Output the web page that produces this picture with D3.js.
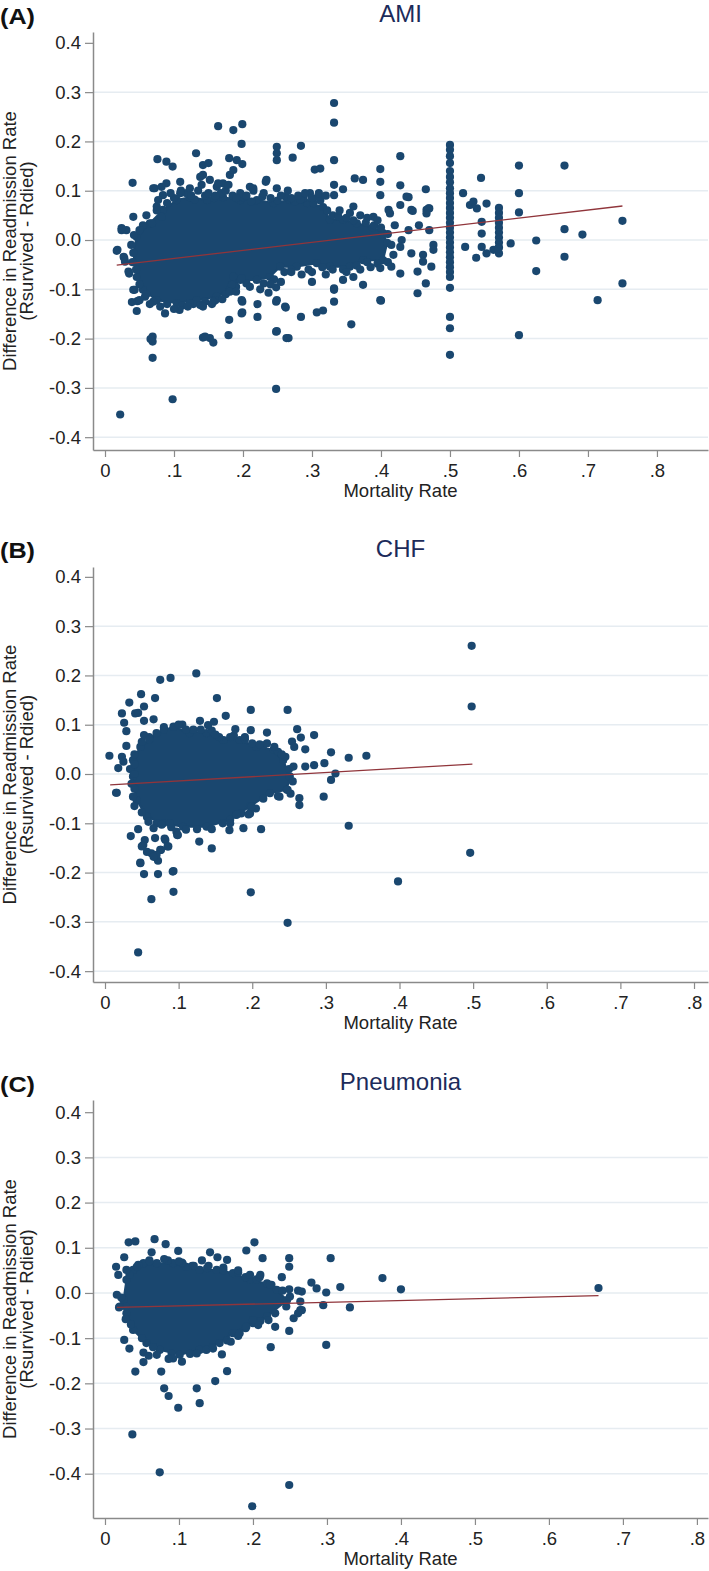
<!DOCTYPE html>
<html>
<head>
<meta charset="utf-8">
<script src="https://cdn.jsdelivr.net/npm/d3@7"></script>
<style>
  body { margin: 0; background: #fff; }
  svg { display: block; font-family: Arial, "Liberation Sans", Helvetica, sans-serif; }
</style>
</head>
<body>
<div id="chart"></div>
<script>
const width = 709;
const height = 1571;

// tick values and their printed labels (same on every panel)
const yTicks = [-0.4, -0.3, -0.2, -0.1, 0, 0.1, 0.2, 0.3, 0.4];
const yTickLabels = ["-0.4", "-0.3", "-0.2", "-0.1", "0.0", "0.1", "0.2", "0.3", "0.4"];
const xTicks = [0, 0.1, 0.2, 0.3, 0.4, 0.5, 0.6, 0.7, 0.8];
const xTickLabels = ["0", ".1", ".2", ".3", ".4", ".5", ".6", ".7", ".8"];

// ---- AMI ----
// outline of the overplotted (solid) part of the cloud, [mortality, difference]
const amiCore = [[.046,.006],[.065,.034],[.084,.061],[.104,.081],[.123,.087],[.148,.081],[.171,.087],[.196,.081],
  [.220,.081],[.244,.075],[.268,.081],[.293,.075],[.316,.067],[.326,.041],[.345,.041],[.365,.034],[.388,.026],
  [.403,.014],[.409,-.006],[.403,-.041],[.374,-.041],[.355,-.054],[.326,-.054],[.307,-.047],[.278,-.054],
  [.254,-.054],[.239,-.075],[.220,-.081],[.196,-.081],[.181,-.101],[.162,-.115],[.133,-.122],[.104,-.128],
  [.075,-.122],[.055,-.101],[.046,-.075],[.041,-.026]];
// hospitals sitting on the ragged rim of that region
const amiRim = [[.055,.03],[.06,.05],[.075,.06],[.09,.075],[.1,.085],[.118,.095],[.13,.082],[.145,.09],[.158,.085],
  [.168,.095],[.185,.09],[.2,.087],[.212,.078],[.228,.088],[.25,.08],[.262,.088],[.275,.078],[.288,.085],
  [.302,.075],[.312,.08],[.322,.06],[.33,.05],[.338,.048],[.35,.045],[.36,.04],[.378,.035],[.39,.03],[.4,.025],
  [.41,.012],[.415,-.01],[.418,-.03],[.41,-.045],[.395,-.048],[.38,-.045],[.365,-.052],[.345,-.06],[.33,-.06],
  [.315,-.055],[.295,-.06],[.27,-.06],[.26,-.065],[.245,-.08],[.23,-.088],[.205,-.088],[.19,-.095],[.175,-.11],
  [.16,-.122],[.145,-.125],[.128,-.13],[.112,-.133],[.09,-.13],[.07,-.125],[.058,-.115],[.05,-.09],[.045,-.06],
  [.04,-.045],[.038,-.01],[.042,.01],[.05,.02]];
const amiPts = [[.022,-.354],[.098,-.323],[.248,-.302],[.069,-.196],[.069,-.206],[.066,-.201],[.069,-.239],
  [.142,-.198],[.152,-.199],[.157,-.208],[.145,-.196],[.179,-.193],[.180,-.162],[.199,-.125],[.199,-.147],
  [.221,-.130],[.221,-.156],[.248,-.125],[.248,-.186],[.266,-.199],[.262,-.137],[.237,-.107],[.248,-.096],
  [.284,-.156],[.307,-.147],[.316,-.143],[.300,-.085],[.332,-.098],[.332,-.125],[.357,-.171],
  [.017,-.022],[.028,-.037],[.035,-.068],[.039,-.126],[.046,-.144],[.047,-.124],[.043,-.101],[.087,-.149],
  [.108,-.142],[.123,-.128],[.138,-.132],[.157,-.125],[.184,-.091],[.186,-.074],[.181,-.105],[.198,-.078],
  [.040,.116],[.041,.047],[.024,.020],[.031,.020],[.018,-.020],[.072,.105],[.075,.068],[.076,.164],[.089,.159],
  [.098,.149],[.084,.091],[.089,.115],[.082,.047],[.109,.118],[.132,.176],[.123,.105],[.142,.152],[.150,.156],
  [.142,.132],[.152,.122],[.140,.112],[.164,.231],[.186,.223],[.199,.235],[.198,.195],[.180,.166],[.191,.162],
  [.199,.154],[.181,.132],[.186,.142],[.171,.115],[.162,.108],[.196,.095],[.210,.108],[.233,.118],
  [.249,.189],[.249,.176],[.249,.162],[.249,.105],[.272,.167],[.284,.191],[.304,.143],[.312,.145],
  [.332,.278],[.332,.238],[.332,.162],[.332,.112],[.332,.091],[.345,.103],[.362,.125],[.374,.122],[.297,.095],
  [.309,.088],[.270,.085],[.283,.082],[.399,.144],[.399,.118],[.399,.091],[.428,.170],[.428,.111],[.465,.103],
  [.440,.087],[.466,.061],[.470,.064],[.446,.059],[.428,.071],[.411,.061],[.389,.047],[.360,.068],[.413,.054],
  [.437,.088],[.444,.061],[.469,.064],[.466,.054],
  [.5,.193],[.5,.183],[.5,.17],[.5,.156],[.5,.14],[.5,.128],[.5,.117],[.5,.105],[.5,.095],[.5,.085],[.5,.075],
  [.5,.065],[.5,.055],[.5,.045],[.5,.035],[.5,.025],[.5,.015],[.5,.005],[.5,-.005],[.5,-.015],[.5,-.025],
  [.5,-.035],[.5,-.045],[.5,-.055],[.5,-.065],[.5,-.075],[.5,-.097],[.5,-.156],[.5,-.179],[.5,-.233],
  [.519,.095],[.529,.071],[.522,-.014],[.545,.126],[.534,.078],[.539,.064],[.553,.074],[.546,.037],[.546,.013],
  [.546,-.014],[.571,.065],[.571,.055],[.571,.045],[.571,.035],[.571,.025],[.571,.015],[.571,.005],[.571,-.005],
  [.571,-.015],[.571,-.027],[.600,.151],[.600,.095],[.600,.056],[.588,-.007],[.625,-.001],[.666,.151],
  [.666,.022],[.692,.011],[.750,.039],[.538,-.036],[.553,-.027],[.563,-.020],[.570,-.017],[.666,-.034],
  [.625,-.063],[.750,-.088],[.714,-.122],[.600,-.193],
  [.400,-.123],[.374,-.091],[.453,-.108],[.465,-.088],[.453,-.064],[.428,-.068],[.415,-.054],[.399,-.057],
  [.473,-.054],[.461,-.030],[.461,-.044],[.476,-.010],[.476,-.020],[.444,-.027],[.42,.03],[.43,.0],[.44,.02],
  [.455,.03],[.47,.02],[.428,-.014],[.399,-.122],[.332,-.101],[.345,-.081],[.263,-.199],[.249,-.185],
  [.261,-.135],[.249,-.122],[.198,-.122],[.198,-.149],
  [.095,.095],[.11,.1],[.125,.09],[.135,.1],[.15,.095],[.16,.09],[.175,.1],[.19,.085],[.205,.09],[.215,.1],
  [.23,.095],[.24,.085],[.255,.09],[.265,.1],[.28,.09],[.29,.095],[.3,.085],[.31,.095],[.32,.09],[.068,.034],
  [.070,.105],[.077,.081],[.082,.108],[.109,.095],[.138,.128],[.164,.115],[.179,.112],[.215,.105],[.234,.122],
  [.024,.024],[.027,-.034],[.029,-.044],[.034,-.064],[.041,-.101],[.050,-.122],[.142,-.135],
  [.34,.06],[.355,.055],[.37,.05],[.38,.045],[.395,.04],[.35,-.065],[.37,-.06],[.385,-.055],[.36,-.075],
  [.3,-.065],[.285,-.07],[.27,-.065],[.32,-.07],[.24,-.09],[.255,-.085],[.21,-.095],[.225,-.1],[.19,-.105],
  [.17,-.12],[.155,-.13],[.12,-.135],[.1,-.14],[.08,-.135],[.065,-.13],[.06,-.11]];
const amiFit = [[0.017, -0.051], [0.75, 0.069]];

// ---- CHF ----
const chfCore = [[.038,.028],[.048,.055],[.070,.083],[.093,.096],[.115,.083],[.138,.083],[.161,.069],[.183,.069],
  [.206,.055],[.229,.049],[.242,.028],[.251,-.005],[.247,-.032],[.224,-.039],[.197,-.066],[.170,-.093],
  [.138,-.107],[.106,-.107],[.079,-.100],[.057,-.087],[.043,-.053],[.038,-.005]];
const chfRim = [[.04,.04],[.05,.065],[.06,.075],[.08,.095],[.105,.1],[.12,.09],[.145,.088],[.155,.075],[.175,.078],
  [.19,.07],[.2,.062],[.215,.058],[.235,.045],[.245,.035],[.25,.01],[.255,-.015],[.252,-.04],[.235,-.045],
  [.215,-.05],[.205,-.07],[.185,-.08],[.16,-.1],[.145,-.112],[.125,-.112],[.11,-.113],[.09,-.108],[.07,-.1],
  [.05,-.078],[.04,-.065],[.036,-.02],[.034,.01]];
const chfPts = [[.006,.037],[.018,.012],[.015,-.038],[.023,.035],[.025,.025],[.029,.057],[.023,.123],[.026,.104],
  [.029,.087],[.033,.145],[.041,.123],[.045,.124],[.049,.162],[.053,.137],[.068,.154],[.075,.191],[.089,.195],
  [.124,.204],[.053,.108],[.066,.111],[.053,.079],[.152,.154],[.129,.108],[.140,.099],[.148,.106],[.164,.118],
  [.177,.091],[.198,.130],[.198,.089],[.220,.084],[.220,.062],[.248,.130],[.261,.091],[.266,.074],[.254,.066],
  [.257,.055],[.272,.050],[.284,.079],[.256,.015],[.272,.015],[.284,.018],[.298,.022],[.307,.044],[.331,.033],
  [.355,.037],[.313,.001],[.307,-.012],[.248,-.032],[.237,-.046],[.264,-.049],[.264,-.063],[.297,-.046],
  [.331,-.105],[.398,-.218],[.498,.260],[.498,.137],[.496,-.160],[.188,-.110],[.212,-.112],[.169,-.114],
  [.178,-.083],[.197,-.080],[.145,-.151],[.128,-.137],[.097,-.117],[.098,-.124],[.045,-.112],[.035,-.126],
  [.038,-.046],[.059,-.097],[.066,-.110],[.077,-.103],[.088,-.100],[.054,-.134],[.052,-.144],[.068,-.130],
  [.075,-.154],[.082,-.134],[.086,-.147],[.063,-.161],[.072,-.176],[.048,-.180],[.053,-.203],[.072,-.203],
  [.093,-.197],[.045,-.362],[.063,-.254],[.093,-.239],[.198,-.240],[.248,-.302],[.092,-.198],[.048,-.181],
  [.016,-.038],[.099,-.124],[.081,-.131],[.085,-.147],[.076,-.154],[.070,-.164],[.050,-.147],[.057,-.158],
  [.066,-.168],[.195,-.082],[.199,-.066],[.179,-.082],[.170,-.100],
  [.06,.07],[.08,.09],[.1,.1],[.11,.09],[.13,.09],[.15,.08],[.17,.075],[.19,.075],[.21,.06],[.23,.055],
  [.24,.04],[.04,.0],[.04,.02],[.04,-.03]];
const chfFit = [[0.007, -0.022], [0.499, 0.020]];

// ---- Pneumonia ----
const pneCore = [[.029,.029],[.038,.051],[.052,.066],[.070,.066],[.092,.066],[.110,.058],[.128,.051],[.151,.051],
  [.173,.044],[.196,.029],[.219,.021],[.232,.007],[.246,-.016],[.219,-.052],[.200,-.067],[.173,-.089],
  [.155,-.111],[.128,-.126],[.101,-.137],[.074,-.126],[.056,-.111],[.038,-.082],[.029,-.045],[.025,-.016]];
const pneRim = [[.033,.04],[.045,.062],[.06,.072],[.085,.072],[.105,.065],[.118,.06],[.138,.055],[.16,.056],
  [.18,.045],[.19,.035],[.205,.03],[.225,.018],[.24,.005],[.25,-.008],[.245,-.03],[.23,-.045],[.21,-.062],
  [.19,-.078],[.18,-.095],[.165,-.105],[.145,-.12],[.115,-.135],[.09,-.135],[.065,-.12],[.05,-.1],[.035,-.07],
  [.028,-.03],[.022,-.01]];
const pnePts = [[.015,.058],[.018,.040],[.016,-.004],[.020,-.030],[.026,.079],[.032,.112],[.041,.114],[.029,.051],
  [.043,.058],[.063,.090],[.067,.119],[.082,.108],[.099,.093],[.104,.067],[.131,.072],[.142,.090],[.152,.079],
  [.165,.073],[.191,.094],[.202,.112],[.213,.077],[.196,.040],[.209,.035],[.223,.018],[.239,.035],[.249,.077],
  [.249,.058],[.249,.008],[.261,.005],[.266,.003],[.264,-.019],[.264,-.038],[.279,.023],[.286,.010],[.299,.001],
  [.295,-.027],[.305,.077],[.318,.013],[.331,-.032],[.375,.033],[.400,.008],[.667,.011],
  [.019,-.032],[.028,-.058],[.026,-.104],[.033,-.123],[.041,-.174],[.052,-.153],[.037,-.313],[.074,-.397],
  [.199,-.472],[.249,-.425],[.076,-.174],[.080,-.211],[.086,-.228],[.099,-.254],[.124,-.211],[.128,-.244],
  [.149,-.195],[.165,-.173],[.158,-.136],[.170,-.108],[.224,-.120],[.249,-.084],[.230,-.075],[.255,-.056],
  [.261,-.045],[.266,-.038],[.207,-.071],[.221,-.060],[.299,-.115],[.104,-.152],[.092,-.145],[.086,-.146],
  [.070,-.137],[.052,-.132],[.059,-.139],[.137,-.126],[.146,-.123],[.124,-.134],[.182,-.089],[.191,-.075],
  [.200,-.060],[.06,.07],[.08,.075],[.1,.07],[.12,.06],[.14,.06],[.16,.05],[.18,.05],[.21,.04]];
const pneFit = [[0.016, -0.032], [0.667, -0.006]];

const colors = {
  dot: "#1a476f",
  fit: "#90353b",
  grid: "#e6ecf1",
  axis: "#8a8a8a",
  text: "#222",
  title: "#1c2b5a"
};

// layout of the three stacked panels (pixels + visible data range)
const panels = [
  { tag: "(A)", tagY: 24, title: "AMI", titleY: 22, top: 32, bottom: 450,
    xDomain: [-0.0174, 0.874], yDomain: [-0.426, 0.422],
    core: amiCore, rim: amiRim, pts: amiPts, fit: amiFit },
  { tag: "(B)", tagY: 558, title: "CHF", titleY: 557, top: 567, bottom: 982,
    xDomain: [-0.0163, 0.819], yDomain: [-0.422, 0.420],
    core: chfCore, rim: chfRim, pts: chfPts, fit: chfFit },
  { tag: "(C)", tagY: 1092, title: "Pneumonia", titleY: 1090, top: 1100, bottom: 1518,
    xDomain: [-0.0162, 0.815], yDomain: [-0.498, 0.427],
    core: pneCore, rim: pneRim, pts: pnePts, fit: pneFit }
];

const left = 93, right = 708, r = 4.1;

const svg = d3.select("#chart")
  .append("svg")
  .attr("width", width)
  .attr("height", height);

svg.append("rect").attr("width", width).attr("height", height).attr("fill", "#fff");

panels.forEach(drawPanel);

function drawPanel(p) {
  const g = svg.append("g");
  const x = d3.scaleLinear().domain(p.xDomain).range([left, right]);
  const y = d3.scaleLinear().domain(p.yDomain).range([p.bottom, p.top]);

  // gridlines (none on the top 0.4 tick)
  g.selectAll(".grid")
    .data(yTicks.filter(d => d < 0.35))
    .enter()
    .append("line")
    .attr("x1", left + 1).attr("x2", right)
    .attr("y1", d => y(d)).attr("y2", d => y(d))
    .attr("stroke", colors.grid)
    .attr("stroke-width", 1.5);

  const yAxis = g.append("g")
    .attr("transform", `translate(${left},0)`)
    .call(d3.axisLeft(y).tickValues(yTicks)
      .tickFormat((d, i) => yTickLabels[i])
      .tickSize(8).tickPadding(4).tickSizeOuter(0));

  const xAxis = g.append("g")
    .attr("transform", `translate(0,${p.bottom})`)
    .call(d3.axisBottom(x).tickValues(xTicks)
      .tickFormat((d, i) => xTickLabels[i])
      .tickSize(7).tickPadding(7).tickSizeOuter(0));

  [yAxis, xAxis].forEach(a => {
    a.select(".domain").attr("stroke", colors.axis).attr("stroke-width", 1.5);
    a.selectAll(".tick line").attr("stroke", colors.axis).attr("stroke-width", 1.2);
    a.selectAll(".tick text")
      .attr("fill", colors.text)
      .style("font-size", "18.5px")
      .style("font-family", "Arial, 'Liberation Sans', sans-serif");
  });

  // solid overplotted region of the cloud
  g.append("path")
    .datum(p.core)
    .attr("d", d3.line().x(d => x(d[0])).y(d => y(d[1])).curve(d3.curveLinearClosed))
    .attr("fill", colors.dot)
    .attr("stroke", colors.dot)
    .attr("stroke-width", 2)
    .attr("stroke-linejoin", "round");

  g.selectAll(".dot")
    .data(p.core.concat(p.rim, p.pts))
    .enter()
    .append("circle")
    .attr("cx", d => x(d[0]))
    .attr("cy", d => y(d[1]))
    .attr("r", r)
    .attr("fill", colors.dot);

  g.append("line")
    .attr("x1", x(p.fit[0][0])).attr("y1", y(p.fit[0][1]))
    .attr("x2", x(p.fit[1][0])).attr("y2", y(p.fit[1][1]))
    .attr("stroke", colors.fit)
    .attr("stroke-width", 1.3);

  // titles and labels
  g.append("text")
    .attr("x", 0).attr("y", p.tagY)
    .attr("font-weight", "bold")
    .attr("font-size", 22)
    .attr("textLength", 35)
    .attr("lengthAdjust", "spacingAndGlyphs")
    .attr("fill", "#111")
    .text(p.tag);

  g.append("text")
    .attr("x", (left + right) / 2).attr("y", p.titleY)
    .attr("text-anchor", "middle")
    .attr("font-size", 24)
    .attr("fill", colors.title)
    .text(p.title);

  g.append("text")
    .attr("x", (left + right) / 2).attr("y", p.bottom + 46.5)
    .attr("text-anchor", "middle")
    .attr("font-size", 18.5)
    .attr("fill", colors.text)
    .text("Mortality Rate");

  const cy = (p.top + p.bottom) / 2;
  g.append("text")
    .attr("transform", `translate(16,${cy}) rotate(-90)`)
    .attr("text-anchor", "middle")
    .attr("font-size", 18.5)
    .attr("fill", colors.text)
    .text("Difference in Readmission Rate");
  g.append("text")
    .attr("transform", `translate(33,${cy}) rotate(-90)`)
    .attr("text-anchor", "middle")
    .attr("font-size", 18.5)
    .attr("fill", colors.text)
    .text("(Rsurvived - Rdied)");
}
</script>
</body>
</html>
